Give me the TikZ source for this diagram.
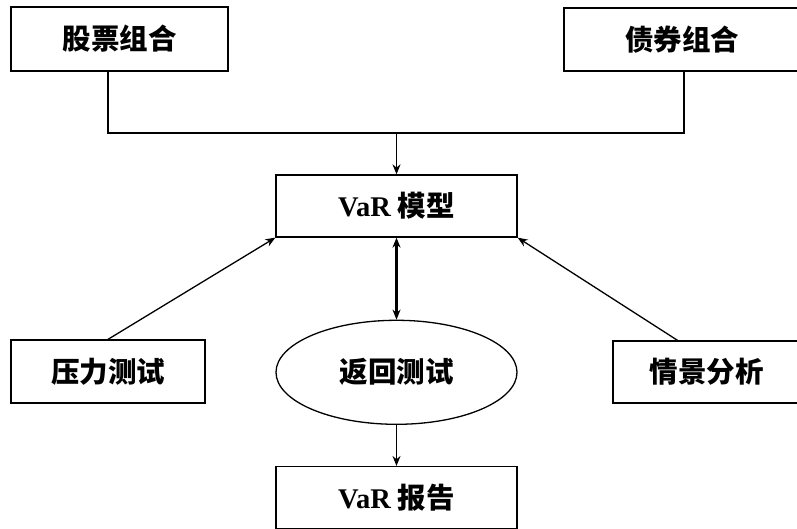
\documentclass[tikz,border=0pt]{standalone}
\usepackage{fontspec}
\setmainfont{Liberation Serif}
\newfontfamily\cjk{Noto Sans CJK SC}
\usepackage{tikz}
\usetikzlibrary{shapes.geometric, arrows.meta, positioning}
\tikzstyle{block} = [rectangle, draw=black, line width=1.3pt, minimum width=241pt, minimum height=62pt, text centered, font=\fontsize{28.5}{31}\selectfont\bfseries]
\tikzstyle{oval} = [ellipse, draw=black, line width=1.3pt, minimum width=241pt, minimum height=104pt, inner sep=0pt, text centered, font=\fontsize{28.5}{31}\selectfont\bfseries]
\tikzstyle{line} = [line width=1.3pt]
\tikzstyle{arrow} = [line width=1.3pt,->,>={Stealth[length=10pt,width=8pt]}]
\tikzstyle{twoway} = [line width=2.4pt,<->,>={Stealth[length=10pt,width=8pt]}]

\begin{document}
\begin{tikzpicture}[x=1pt, y=-1pt]
        \useasboundingbox (0,0) rectangle (797,529);
        \node (model) [block] at (396.5,206) {VaR {\cjk 模型}};
        \node (stock) [block, minimum width=217pt, minimum height=64pt] at (119.5,39) {\cjk 股票组合};
        \node (bond) [block, minimum width=236pt, minimum height=63pt] at (682,39.5) {\cjk 债券组合};
        \node (stress) [block, minimum width=194pt, minimum height=63pt] at (108,371.5) {\cjk 压力测试};
        \node (scene) [block, minimum width=187pt] at (706.5,372) {\cjk 情景分析};
        \node (back) [oval, below=82pt of model] {\cjk 返回测试};
        \node (report) [block, below=41pt of back] {VaR {\cjk 报告}};
        \coordinate (join) at (396.5,133);

        \draw [line] ([xshift=-11.5pt]stock.south) |- (join) -| ([xshift=2pt]bond.south);
        \draw [arrow] (join) -- (model);
        \draw [arrow] (stress.north) -- (model.south west);
        \draw [arrow] ([xshift=-29pt]scene.north) -- (model.south east);
        \draw [twoway] (model) -- (back);
        \draw [arrow] (back) -- (report);
    \end{tikzpicture}
\end{document}
